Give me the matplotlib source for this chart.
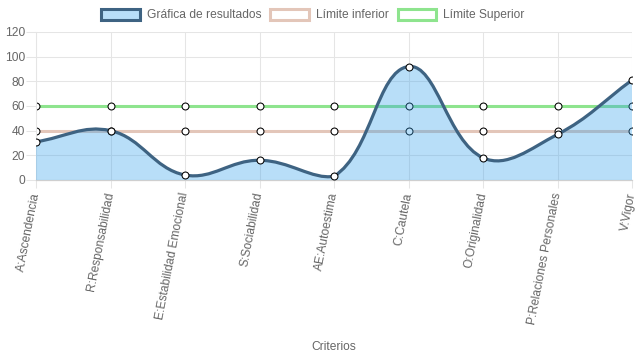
import numpy as np
import matplotlib.pyplot as plt
from matplotlib.path import Path
from matplotlib.patches import PathPatch, Patch

# data
criterios = ['A:Ascendencia', 'R:Responsabilidad', 'E:Estabilidad Emocional',
             'S:Sociabilidad', 'AE:Autoestima', 'C:Cautela', 'O:Originalidad',
             'P:Relaciones Personales', 'V:Vigor']
resultados = [31, 40, 4, 16, 3, 92, 18, 37, 81]
limite_inferior = [40, 40, 40, 40, 40, 40, 40, 40, 40]
limite_superior = [60, 60, 60, 60, 60, 60, 60, 60, 60]
y_ticks = [0, 20, 40, 60, 80, 100, 120]

plt.rcParams['font.family'] = ['Liberation Sans', 'DejaVu Sans']
FS = 8.64
GRID = '#e5e5e5'
TXT = '#666666'
FILL = (54/255, 162/255, 235/255, 0.35)
LINE = '#3e6382'
INF = '#e3c6b9'
SUP = '#8ee48e'
YMIN, YMAX = 0, 120


def spline_path(xs, ys, sx, sy, t=0.4):
    # same control points as the chart.js default bezier (tension 0.4),
    # control points kept inside the chart area
    px = np.asarray(xs, float) * sx
    py = np.asarray(ys, float) * sy
    n = len(px)
    lo, hi = YMIN * sy, YMAX * sy
    cps = []
    for i in range(n):
        p = max(i - 1, 0)
        q = min(i + 1, n - 1)
        d01 = np.hypot(px[i] - px[p], py[i] - py[p])
        d12 = np.hypot(px[q] - px[i], py[q] - py[i])
        tot = d01 + d12
        s01 = d01 / tot if tot else 0
        s12 = d12 / tot if tot else 0
        fa, fb = t * s01, t * s12
        prev = (px[i] - fa * (px[q] - px[p]),
                np.clip(py[i] - fa * (py[q] - py[p]), lo, hi))
        nxt = (px[i] + fb * (px[q] - px[p]),
               np.clip(py[i] + fb * (py[q] - py[p]), lo, hi))
        cps.append((prev, nxt))
    verts = [(px[0], py[0])]
    codes = [Path.MOVETO]
    for i in range(1, n):
        verts += [cps[i - 1][1], cps[i][0], (px[i], py[i])]
        codes += [Path.CURVE4] * 3
    verts = np.array(verts) / [sx, sy]
    return verts, codes


fig = plt.figure(figsize=(6.37, 3.59), dpi=100)
ax = fig.add_axes([36 / 637, 1 - 180 / 359, 596 / 637, 148 / 359])

x = np.arange(len(criterios))
ax.set_xlim(0, len(criterios) - 1)
ax.set_ylim(YMIN, YMAX)

sx = 596 / (len(criterios) - 1)
sy = 148 / 120
verts, codes = spline_path(x, resultados, sx, sy)

# limit lines (drawn below the results)
ax.plot(x, limite_inferior, color=INF, lw=2.2, zorder=2,
        marker='o', ms=5, mfc='white', mec='black', mew=0.75)
ax.plot(x, limite_superior, color=SUP, lw=2.2, zorder=2,
        marker='o', ms=5, mfc='white', mec='black', mew=0.75)

# filled area under results
fverts = np.vstack([verts, [[x[-1], 0], [x[0], 0], [x[0], 0]]])
fcodes = codes + [Path.LINETO, Path.LINETO, Path.CLOSEPOLY]
ax.add_patch(PathPatch(Path(fverts, fcodes), facecolor=FILL, edgecolor='none', zorder=3))
ax.add_patch(PathPatch(Path(verts, codes), facecolor='none', edgecolor=LINE, lw=2.3,
                       capstyle='round', joinstyle='round', zorder=4))
ax.plot(x, resultados, ls='none', marker='o', ms=5, mfc='white', mec='black',
        mew=0.75, zorder=5)

# axes styling
ax.set_yticks(y_ticks)
ax.set_xticks(x)
ax.set_xticklabels(criterios, rotation=79, ha='right', va='center',
                   rotation_mode='anchor')
ax.grid(True, color=GRID, lw=0.75, zorder=0)
ax.set_axisbelow(True)
for s in ['top', 'right']:
    ax.spines[s].set_visible(False)
ax.spines['left'].set_color(GRID)
ax.spines['left'].set_linewidth(0.75)
ax.spines['bottom'].set_color('#cfcfcf')
ax.spines['bottom'].set_linewidth(0.9)
ax.tick_params(axis='both', colors=GRID, labelcolor=TXT, labelsize=FS, width=0.75)
ax.tick_params(axis='y', length=7, pad=1)
ax.tick_params(axis='x', length=6, pad=3)

fig.text(334 / 637, 1 - 347 / 359, 'Criterios', ha='center', va='center',
         fontsize=FS, color=TXT)

handles = [Patch(facecolor=FILL, edgecolor=LINE, lw=2.2),
           Patch(facecolor='white', edgecolor=INF, lw=2.2),
           Patch(facecolor='white', edgecolor=SUP, lw=2.2)]
labels = ['Gráfica de resultados', 'Límite inferior', 'Límite Superior']
leg = fig.legend(handles, labels, loc='center', bbox_to_anchor=(313 / 637, 1 - 15 / 359),
                 ncol=3, frameon=False, fontsize=FS, handlelength=3.2,
                 handleheight=1.0, handletextpad=0.6, columnspacing=0.75,
                 borderpad=0)
for t in leg.get_texts():
    t.set_color(TXT)

fig.savefig('out.png', dpi=100)
